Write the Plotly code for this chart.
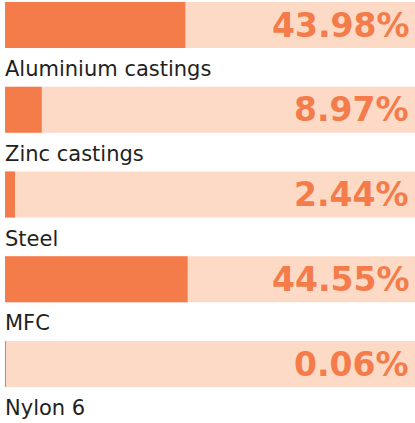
import plotly.graph_objects as go

categories = ["Aluminium castings", "Zinc castings", "Steel", "MFC", "Nylon 6"]
values = [43.98, 8.97, 2.44, 44.55, 0.06]
total = [100, 100, 100, 100, 100]
labels = ["43.98%", "8.97%", "2.44%", "44.55%", "0.06%"]

FILL = "#F47C4B"
BG = "#FDDAC6"
rows = list(range(len(categories)))

fig = go.Figure()
fig.add_trace(go.Bar(x=total, y=rows, orientation="h", marker=dict(color=BG, line=dict(width=0)),
                     width=0.543, hoverinfo="skip", showlegend=False))
fig.add_trace(go.Bar(x=values, y=rows, orientation="h", marker=dict(color=FILL, line=dict(width=0)),
                     width=0.543, showlegend=False))

for i, (c, l) in enumerate(zip(categories, labels)):
    fig.add_annotation(x=100, y=i, text=l, showarrow=False, xanchor="right", yanchor="middle",
                       xshift=-4, font=dict(family="DejaVu Sans", size=33, color=FILL, weight="bold"))
    fig.add_annotation(x=0, y=i, text=c, showarrow=False, xanchor="left", yanchor="middle",
                       xshift=-2, yshift=-44, font=dict(family="DejaVu Sans", size=21, color="#231F20"))

fig.update_layout(
    width=415, height=423, margin=dict(l=5, r=0, t=0, b=0),
    barmode="overlay", plot_bgcolor="white", paper_bgcolor="white",
    xaxis=dict(range=[0, 100], visible=False, fixedrange=True),
    yaxis=dict(range=[4.696, -0.295], visible=False, fixedrange=True),
)
fig.write_html("out.html", config={"displayModeBar": False},
               post_script="document.body.style.margin='0';")
